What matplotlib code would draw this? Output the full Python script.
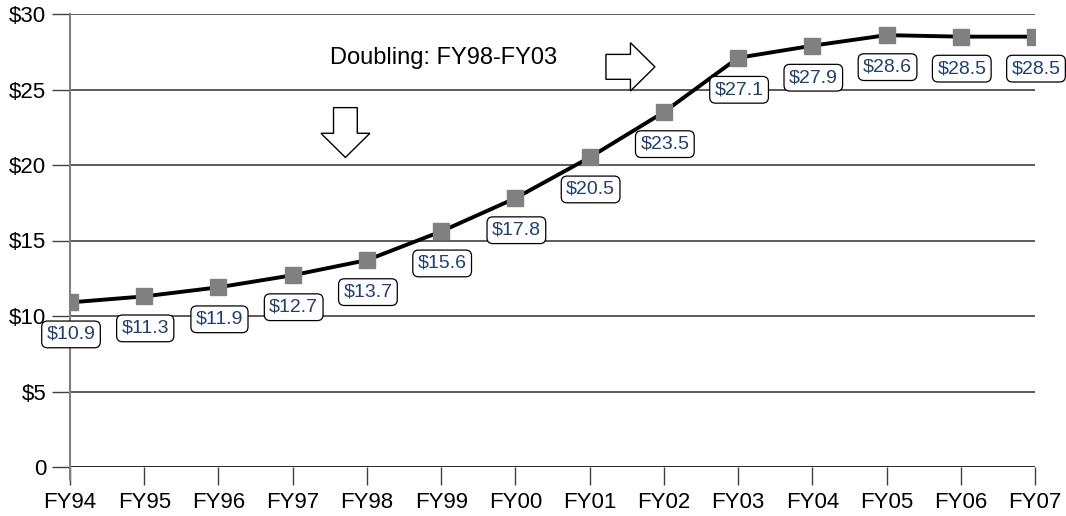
import numpy as np
import matplotlib.pyplot as plt
from matplotlib.patches import FancyArrow

plt.rcParams['font.family'] = ['Liberation Sans', 'DejaVu Sans']

# Data
years = ['FY94', 'FY95', 'FY96', 'FY97', 'FY98', 'FY99', 'FY00',
         'FY01', 'FY02', 'FY03', 'FY04', 'FY05', 'FY06', 'FY07']
budget = [10.9, 11.3, 11.9, 12.7, 13.7, 15.6, 17.8,
          20.5, 23.5, 27.1, 27.9, 28.6, 28.5, 28.5]
yticks = [0, 5, 10, 15, 20, 25, 30]
ytick_labels = ['0', '$5', '$10', '$15', '$20', '$25', '$30']

fig = plt.figure(figsize=(10.66, 5.16), dpi=100)
ax = fig.add_axes([70/1066, 1 - 467/516, (1035-70)/1066, (467-14)/516])

x = np.arange(len(years))
ax.set_xlim(0, len(years) - 1)
ax.set_ylim(0, 30)

# Gridlines
for y in yticks:
    ax.axhline(y, color='#404040' if y else 'black', lw=1.2, zorder=1)

ax.plot(x, budget, color='black', lw=2.8, zorder=3)
ax.plot(x, budget, 's', color='#808080', ms=11, zorder=4)

# Value labels
for xi, v in zip(x, budget):
    ax.annotate(f'${v}', (xi, v), xytext=(1, -32), textcoords='offset pixels',
                ha='center', va='center', fontsize=14, color='#1F3F6F',
                annotation_clip=False, zorder=5,
                bbox=dict(boxstyle='round,pad=0.25,rounding_size=0.3',
                          fc='white', ec='black', lw=0.9))

# Annotation text and arrows
ax.text(3.5, 27.1, 'Doubling: FY98-FY03', fontsize=17,
        ha='left', va='center', zorder=5)

arrow_kw = dict(fc='white', ec='black', lw=1, length_includes_head=True, zorder=5)
# down arrow (near FY98)
ax.add_patch(FancyArrow(3.71, 23.8, 0, -3.3, width=0.32, head_width=0.66,
                        head_length=1.6, **arrow_kw))
# right arrow (toward FY03)
ax.add_patch(FancyArrow(7.22, 26.5, 0.66, 0, width=1.65, head_width=3.2,
                        head_length=0.33, **arrow_kw))

ax.set_xticks(x)
ax.set_xticklabels(years, fontsize=16)
ax.set_yticks(yticks)
ax.set_yticklabels(ytick_labels, fontsize=16)
ax.tick_params(axis='x', length=13, width=1, color='#404040', pad=5)
ax.tick_params(axis='y', length=13, width=1, color='#404040', pad=4)

for s in ['top', 'right', 'bottom']:
    ax.spines[s].set_visible(False)
ax.spines['left'].set_color('#808080')
ax.spines['left'].set_linewidth(1.5)
ax.spines['left'].set_bounds(-13 * 30 / 453, 30)

fig.savefig('out.png', dpi=100)
